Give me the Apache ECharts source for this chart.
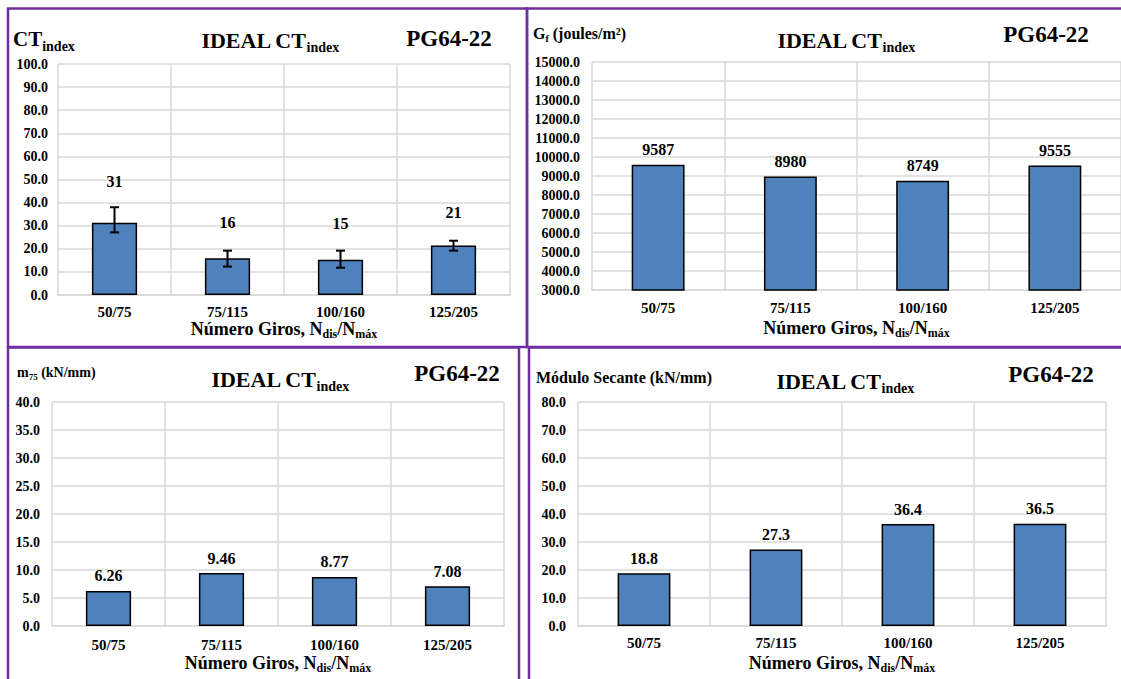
<!DOCTYPE html>
<html>
<head>
<meta charset="utf-8">
<title>IDEAL CT index - PG64-22</title>
<script src="https://cdn.jsdelivr.net/npm/echarts@6/dist/echarts.min.js"></script>
<style>
  html, body { margin: 0; padding: 0; background: #fff; }
  #main { width: 1121px; height: 679px; }
</style>
</head>
<body>
<div id="main"></div>
<script>
const categories = ['50/75', '75/115', '100/160', '125/205'];

// CT index with the ends of its error bars
const ctIndex = [31.3, 15.9, 15.3, 21.4];
const ctErrLow = [27.1, 12.3, 11.8, 19.2];
const ctErrHigh = [38.0, 19.2, 19.2, 23.5];

const gfValues = [9587, 8980, 8749, 9555];
const m75Values = [6.26, 9.46, 8.77, 7.08];
const secanteValues = [18.8, 27.3, 36.4, 36.5];

// label lift above the CT bars (they sit over the error bars)
const ctLabelGap = [33, 28, 28, 25];

const FONT = 'Liberation Serif, Times New Roman, serif';
const GRID_COLOR = '#d9d9d9';
const BORDER = '#7030a0';

const rich = (main, sub, lh) => ({
    m: { fontSize: main, lineHeight: lh || main + 4, fontWeight: 'bold', fontFamily: FONT, color: '#000', fill: '#000' },
    s: { fontSize: sub, lineHeight: sub, verticalAlign: 'bottom', fontWeight: 'bold', fontFamily: FONT, color: '#000', fill: '#000' }
});

const chart = echarts.init(document.getElementById('main'), null, { renderer: 'svg' });

const grids = [
    { left: 58, top: 64, width: 452, height: 231 },
    { left: 592, top: 62, width: 530, height: 228 },
    { left: 52, top: 402, width: 452, height: 224 },
    { left: 578, top: 402, width: 528, height: 224 }
];
const yRanges = [
    { min: 0, max: 100, interval: 10 },
    { min: 3000, max: 15000, interval: 1000 },
    { min: 0, max: 40, interval: 5 },
    { min: 0, max: 80, interval: 10 }
];
const xLabelMargin = [9, 10, 11, 9];
const xNameGap = [19, 26, 25, 25];
const yLabelMargin = [10, 12, 12, 12];

const xAxes = grids.map((g, i) => ({
    type: 'category',
    gridIndex: i,
    data: categories,
    axisTick: { show: false },
    axisLine: { show: true, lineStyle: { color: GRID_COLOR, width: 1.5 } },
    splitLine: { show: true, lineStyle: { color: GRID_COLOR, width: 1.5 } },
    axisLabel: { margin: xLabelMargin[i], fontSize: 15, fontWeight: 'bold', fontFamily: FONT, color: '#000' },
    name: '{m|Número Giros, N}{s|dis}{m|/N}{s|máx}',
    nameLocation: 'middle',
    nameGap: xNameGap[i],
    nameTextStyle: { rich: rich(18, 12, 23) }
}));

const yAxes = grids.map((g, i) => ({
    type: 'value',
    gridIndex: i,
    min: yRanges[i].min,
    max: yRanges[i].max,
    interval: yRanges[i].interval,
    axisLine: { show: false },
    axisTick: { show: false },
    splitLine: { show: true, lineStyle: { color: GRID_COLOR, width: 1.5 } },
    axisLabel: {
        margin: yLabelMargin[i], fontSize: 14, fontWeight: 'bold', fontFamily: FONT, color: '#000',
        formatter: v => v.toFixed(1)
    }
}));

const barStyle = { color: '#4f81bd', borderColor: '#000', borderWidth: 1.5 };
const labelStyle = { show: true, position: 'top', distance: 7, fontSize: 16, fontWeight: 'bold', fontFamily: FONT, color: '#000' };

const barSeries = (idx, values, formatter, gaps) => ({
    type: 'bar',
    xAxisIndex: idx,
    yAxisIndex: idx,
    barWidth: '40%',
    itemStyle: barStyle,
    label: Object.assign({}, labelStyle, { formatter: formatter }),
    data: values.map((v, i) => gaps ? { value: v, label: { distance: gaps[i] } } : v),
    z: 2
});

const errorSeries = {
    type: 'custom',
    xAxisIndex: 0,
    yAxisIndex: 0,
    z: 5,
    data: categories.map((c, i) => [i, ctErrLow[i], ctErrHigh[i]]),
    encode: { x: 0, y: [1, 2] },
    renderItem: (params, api) => {
        const lo = api.coord([api.value(0), api.value(1)]);
        const hi = api.coord([api.value(0), api.value(2)]);
        const half = 4.5;
        const st = { stroke: '#000', lineWidth: 2 };
        return {
            type: 'group',
            children: [
                { type: 'line', shape: { x1: hi[0], y1: hi[1], x2: lo[0], y2: lo[1] }, style: st },
                { type: 'line', shape: { x1: hi[0] - half, y1: hi[1], x2: hi[0] + half, y2: hi[1] }, style: st },
                { type: 'line', shape: { x1: lo[0] - half, y1: lo[1], x2: lo[0] + half, y2: lo[1] }, style: st }
            ]
        };
    }
};

const text = (x, y, str, r, align) => ({
    type: 'text',
    x: x,
    y: y,
    silent: true,
    style: {
        text: str,
        align: align || 'center',
        verticalAlign: 'middle',
        fill: '#000',
        fontFamily: FONT,
        fontWeight: 'bold',
        rich: r
    }
});

const box = (x, y, w, h) => ({
    type: 'rect',
    silent: true,
    shape: { x: x, y: y, width: w, height: h },
    style: { fill: 'none', stroke: BORDER, lineWidth: 2.5 },
    z: 100
});

const titleRich = rich(22, 14, 28);
const pgRich = { m: { fontSize: 23, fontWeight: 'bold', fontFamily: FONT, fill: '#000', color: '#000' } };

const graphics = [
    box(8, 8.5, 519, 338.5),
    box(527, 8.5, 620, 338.5),
    box(8, 347.5, 511, 360),
    box(529, 347.5, 620, 360),

    text(13, 39, '{m|CT}{s|index}', rich(21, 14, 28), 'left'),
    text(270, 40, '{m|IDEAL CT}{s|index}', titleRich),
    text(449, 38, '{m|PG64-22}', pgRich),

    text(533, 33, '{m|G}{s|f}{m| (joules/m²)}', rich(16, 10, 20), 'left'),
    text(846, 40, '{m|IDEAL CT}{s|index}', titleRich),
    text(1046, 34, '{m|PG64-22}', pgRich),

    text(17, 372, '{m|m}{s|75}{m| (kN/mm)}', rich(14, 9, 18), 'left'),
    text(280, 379, '{m|IDEAL CT}{s|index}', titleRich),
    text(457, 373, '{m|PG64-22}', pgRich),

    text(536, 377, '{m|Módulo Secante (kN/mm)}', rich(16, 10), 'left'),
    text(845, 381, '{m|IDEAL CT}{s|index}', titleRich),
    text(1051, 374, '{m|PG64-22}', pgRich)
];

chart.setOption({
    backgroundColor: '#fff',
    animation: false,
    grid: grids,
    xAxis: xAxes,
    yAxis: yAxes,
    series: [
        barSeries(0, ctIndex, p => Math.round(p.value), ctLabelGap),
        errorSeries,
        barSeries(1, gfValues, p => p.value),
        barSeries(2, m75Values, p => p.value.toFixed(2)),
        barSeries(3, secanteValues, p => p.value.toFixed(1))
    ],
    graphic: graphics
});
</script>
</body>
</html>
